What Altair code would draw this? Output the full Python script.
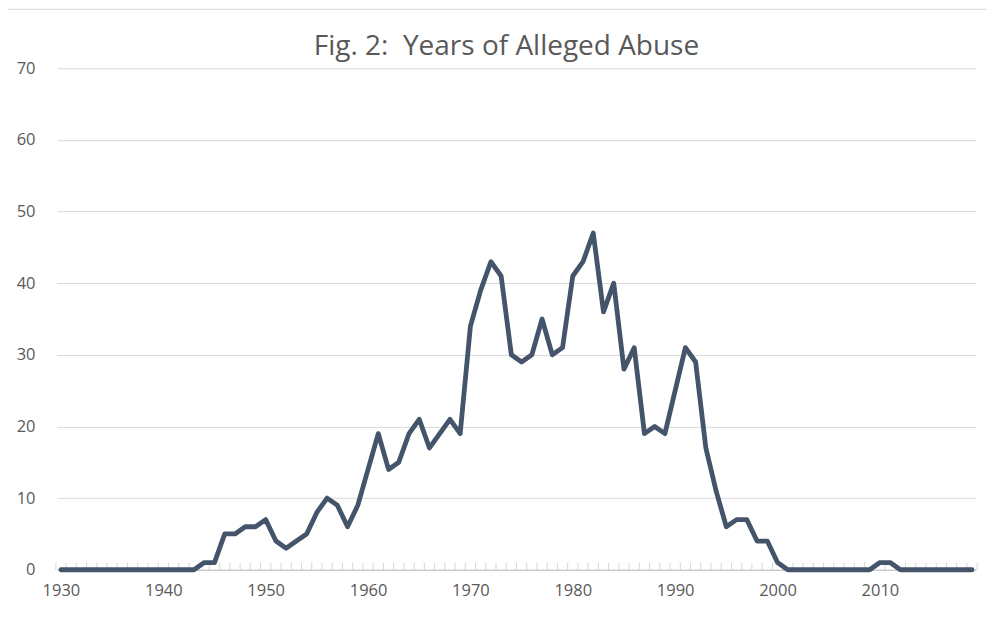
import altair as alt
import pandas as pd

years = list(range(1930, 2020))
counts = (
    [0] * 14
    + [1, 1, 5, 5, 6, 6, 7, 4, 3, 4, 5, 8, 10, 9, 6, 9,
       14, 19, 14, 15, 19, 21, 17, 19, 21, 19,
       34, 39, 43, 41, 30, 29, 30, 35, 30, 31,
       41, 43, 47, 36, 40, 28, 31, 19, 20, 19,
       25, 31, 29, 17, 11, 6, 7, 7, 4, 4, 1]
    + [0] * 9
    + [1, 1]
    + [0] * 8
)
x_labels = [1930, 1940, 1950, 1960, 1970, 1980, 1990, 2000, 2010]
y_labels = [0, 10, 20, 30, 40, 50, 60, 70]
minor_ticks = [y - 0.5 for y in range(1930, 2021)]
title_text = "Fig. 2:\u00a0 Years of Alleged Abuse"

df = pd.DataFrame({"year": years, "count": counts})
ticks_df = pd.DataFrame({"pos": minor_ticks})

W, H = 920, 502
FONT = "Open Sans"
TXT = "#595959"
GRID = "#D9D9D9"
TICK = "#C4C4C4"

xscale = alt.Scale(domain=[1929.61, 2019.39], nice=False, zero=False)
yscale = alt.Scale(domain=[0, 70], nice=False)

line = alt.Chart(df).mark_line(
    color="#44546A", strokeWidth=4.8, strokeJoin="round", strokeCap="round"
).encode(
    x=alt.X("year:Q", scale=xscale,
            axis=alt.Axis(values=x_labels, format="d", grid=False, ticks=False,
                          domain=True, domainColor=TICK, labelPadding=13,
                          labelFontSize=16.5, labelColor=TXT, labelFont=FONT,
                          title=None)),
    y=alt.Y("count:Q", scale=yscale,
            axis=alt.Axis(values=y_labels, grid=True, gridColor=GRID, ticks=False,
                          domain=False, labelPadding=22, labelFontSize=16.5,
                          labelColor=TXT, labelFont=FONT, title=None)),
)

ticks = alt.Chart(ticks_df).mark_tick(
    orient="vertical", size=7, thickness=1, color=TICK, yOffset=-3.5
).encode(
    x=alt.X("pos:Q", scale=xscale),
    y=alt.datum(0, scale=yscale),
)

one = alt.Data(values=[{}])
left_border = alt.Chart(one).mark_rule(color=GRID, strokeWidth=1).encode(
    x=alt.value(-50), y=alt.value(-59), y2=alt.value(H + 60)
)
top_border = alt.Chart(one).mark_rule(color=GRID, strokeWidth=1).encode(
    x=alt.value(-50), x2=alt.value(W + 20), y=alt.value(-59)
)
title = alt.Chart(one).mark_text(
    font=FONT, fontSize=28, color=TXT, align="center", baseline="alphabetic"
).encode(
    x=alt.value(450), y=alt.value(-13), text=alt.value(title_text)
)

chart = alt.layer(left_border, top_border, ticks, line, title).properties(
    width=W,
    height=H,
    autosize=alt.AutoSizeParams(type="none"),
    padding={"left": 49, "top": 60, "right": 11, "bottom": 60},
).configure_view(stroke=None)

chart.save("out.html", embed_options={"renderer": "svg", "actions": False})
